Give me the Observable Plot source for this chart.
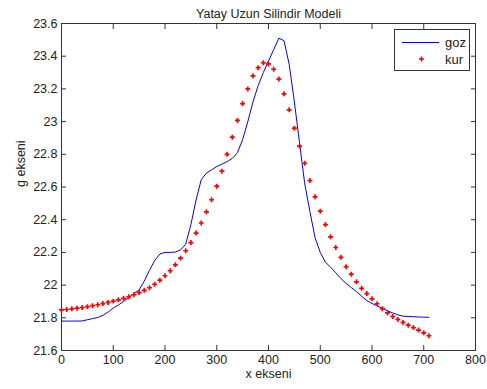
<!DOCTYPE html>
<html><head><meta charset="utf-8">
<script src="https://cdn.jsdelivr.net/npm/d3@7"></script>
<script src="https://cdn.jsdelivr.net/npm/@observablehq/plot@0.6"></script>
<style>body{margin:0;background:#fff;}</style>
</head><body><div id="chart"></div>
<script>
const titleText = "Yatay Uzun Silindir Modeli";
const xLabel = "x ekseni";
const yLabel = "g ekseni";
const seriesNames = ["goz", "kur"];
const xTicks = [0, 100, 200, 300, 400, 500, 600, 700, 800];
const yTicks = [21.6, 21.8, 22, 22.2, 22.4, 22.6, 22.8, 23, 23.2, 23.4, 23.6];
const xValues = [0,10,20,30,40,50,60,70,80,90,100,110,120,130,140,150,160,170,180,190,200,210,220,230,240,250,260,270,280,290,300,310,320,330,340,350,360,370,380,390,400,410,420,430,440,450,460,470,480,490,500,510,520,530,540,550,560,570,580,590,600,610,620,630,640,650,660,670,680,690,700,710];
const gozValues = [21.780,21.780,21.780,21.780,21.781,21.788,21.795,21.802,21.815,21.835,
21.860,21.878,21.900,21.925,21.950,21.970,22.025,22.090,22.150,22.190,
22.200,22.200,22.202,22.215,22.250,22.370,22.520,22.645,22.685,22.705,
22.725,22.740,22.755,22.775,22.810,22.890,23.000,23.120,23.220,23.300,
23.370,23.440,23.510,23.495,23.350,23.120,22.870,22.620,22.450,22.290,
22.200,22.140,22.110,22.075,22.040,22.010,21.985,21.960,21.932,21.905,
21.888,21.873,21.858,21.843,21.830,21.818,21.810,21.808,21.807,21.805,
21.804,21.803];
const kurValues = [21.848,21.851,21.855,21.859,21.863,21.868,21.874,21.880,21.887,21.894,
21.902,21.910,21.919,21.929,21.941,21.954,21.968,21.984,22.005,22.030,
22.057,22.088,22.124,22.165,22.210,22.260,22.318,22.380,22.448,22.522,
22.605,22.697,22.800,22.905,23.007,23.110,23.200,23.280,23.330,23.360,
23.353,23.320,23.260,23.170,23.072,22.960,22.850,22.745,22.640,22.540,
22.452,22.370,22.295,22.230,22.170,22.112,22.067,22.020,21.980,21.948,
21.916,21.886,21.856,21.830,21.808,21.790,21.772,21.755,21.740,21.725,
21.708,21.690];

const goz = xValues.map((x, i) => ({x, g: gozValues[i]}));
const kur = xValues.map((x, i) => ({x, g: kurValues[i]}));
const yFmt = d => String(+d.toFixed(1));
const ink = "#222";
const fs = 12.5;
const markR = 2.1;

const chart = Plot.plot({
  width: 487, height: 389,
  marginLeft: 61, marginRight: 12, marginTop: 23, marginBottom: 39,
  style: {fontFamily: "'Liberation Sans', Arial, sans-serif", fontSize: fs + "px", background: "#fff", color: ink},
  x: {domain: [0, 800]},
  y: {domain: [21.6, 23.6]},
  marks: [
    Plot.frame({stroke: "#333"}),
    Plot.line(goz, {x: "x", y: "g", stroke: "#0000ff", strokeWidth: 1}),
    Plot.dot(kur, {x: "x", y: "g", symbol: "cross", r: markR, fill: "#ff0000"}),
    Plot.axisX(xTicks, {anchor: "bottom", tickSize: 0, tickPadding: 5, label: null, fontSize: fs}),
    Plot.axisX(xTicks, {anchor: "bottom", tickSize: 5, dy: -5, fill: "none", label: null, stroke: "#333"}),
    Plot.axisX(xTicks, {anchor: "top", tickSize: 5, dy: 5, fill: "none", label: null, stroke: "#333"}),
    Plot.axisY(yTicks, {anchor: "left", tickSize: 0, tickPadding: 4, tickFormat: yFmt, label: null, fontSize: fs}),
    Plot.axisY(yTicks, {anchor: "left", tickSize: 5, dx: 5, fill: "none", label: null, stroke: "#333"}),
    Plot.axisY(yTicks, {anchor: "right", tickSize: 5, dx: -5, fill: "none", label: null, stroke: "#333"}),
    Plot.text([titleText], {frameAnchor: "top", dy: -14, text: d => d, fontSize: 12.5, fill: ink}),
    Plot.text([xLabel], {frameAnchor: "bottom", dy: 27, text: d => d, fontSize: fs, fill: ink}),
    Plot.text([yLabel], {frameAnchor: "left", dx: -41, rotate: -90, text: d => d, fontSize: fs, fill: ink})
  ]
});
document.getElementById("chart").appendChild(chart);

// legend box inside the axes
const svg = d3.select(chart);
const lg = svg.append("g").attr("font-family", "'Liberation Sans', Arial, sans-serif")
  .attr("font-size", 13).attr("text-anchor", "start");
lg.append("rect").attr("x", 394.5).attr("y", 29.5).attr("width", 75).attr("height", 41)
  .attr("fill", "#fff").attr("stroke", "#333");
lg.append("line").attr("x1", 402).attr("x2", 439).attr("y1", 42.5).attr("y2", 42.5)
  .attr("stroke", "#0000ff").attr("stroke-width", 1);
lg.append("path").attr("transform", "translate(421.5,59)")
  .attr("d", d3.symbol(d3.symbolCross, Math.PI * markR * markR)()).attr("fill", "#ff0000");
lg.append("text").attr("x", 445).attr("y", 42.5).attr("dy", "0.35em").attr("fill", ink).text(seriesNames[0]);
lg.append("text").attr("x", 445).attr("y", 59).attr("dy", "0.35em").attr("fill", ink).text(seriesNames[1]);
</script>
</body></html>
